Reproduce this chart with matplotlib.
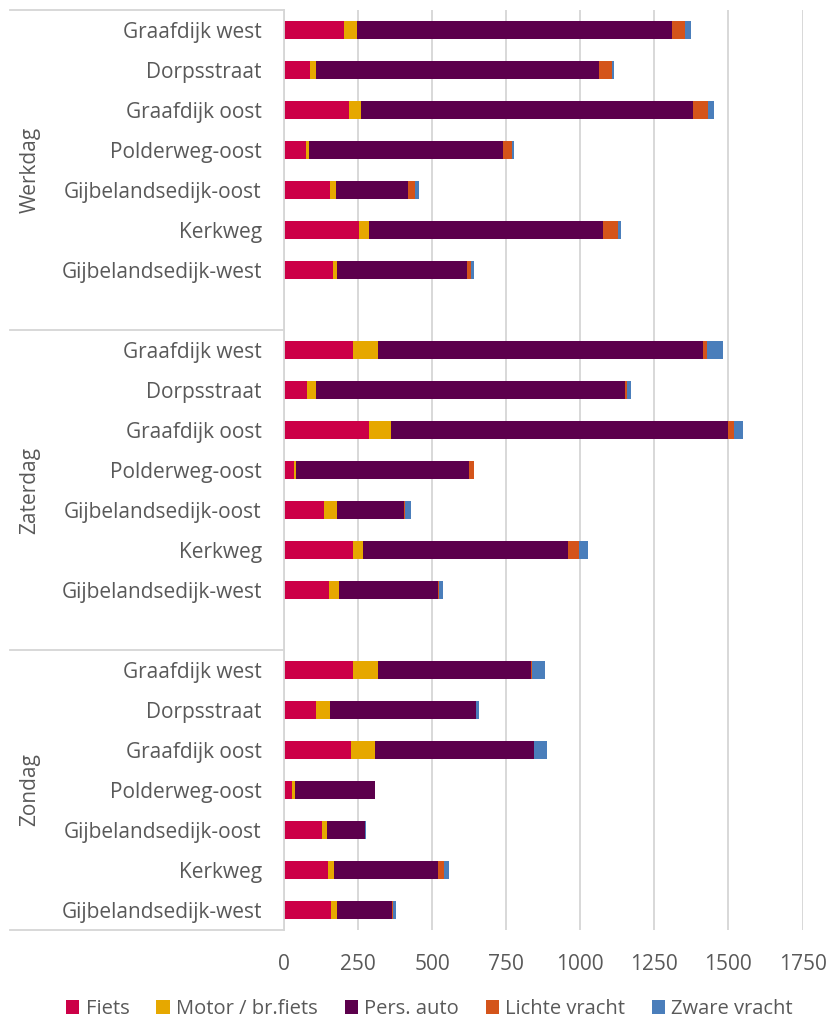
import matplotlib
matplotlib.use("Agg")
import matplotlib.pyplot as pl
import matplotlib.transforms as mtransforms
import numpy as np

pl.rcParams["font.family"] = ["Open Sans", "DejaVu Sans"]

days = ["Werkdag", "Zaterdag", "Zondag"]
roads = ["Graafdijk west", "Dorpsstraat", "Graafdijk oost", "Polderweg-oost",
		"Gijbelandsedijk-oost", "Kerkweg", "Gijbelandsedijk-west"]
seriesNames = ["Fiets", "Motor / br.fiets", "Pers. auto", "Lichte vracht", "Zware vracht"]

# per series: 7 roads for Werkdag, then Zaterdag, then Zondag
fiets = [203, 89, 220, 73, 154, 252, 167,
		232, 77, 288, 33, 134, 232, 151,
		232, 109, 225, 28, 127, 148, 160]
motor = [45, 20, 40, 12, 20, 36, 11,
		84, 32, 73, 7, 44, 36, 35,
		84, 45, 83, 8, 19, 22, 19]
persAuto = [1061, 955, 1120, 655, 244, 790, 441,
		1099, 1042, 1137, 586, 228, 692, 335,
		518, 493, 535, 270, 128, 351, 187]
lichteVracht = [45, 42, 50, 30, 25, 48, 11,
		12, 8, 22, 15, 2, 36, 3,
		2, 1, 2, 0, 0, 18, 2]
zwareVracht = [19, 7, 20, 6, 12, 12, 11,
		56, 11, 29, 1, 20, 31, 12,
		46, 10, 41, 2, 2, 17, 9]

colors = ["#CC0047", "#E6A800", "#5C004C", "#D4541A", "#4A7EBB"]
textColor = "#595959"
gridColor = "#D6D6D6"

W, H = 826, 1025
figure = pl.figure(figsize=(W / 100, H / 100), dpi=100)
axLeft, axRight, axTop, axBottom = 284, 802.5, 10, 930
axes = figure.add_axes([axLeft / W, 1 - axBottom / H, (axRight - axLeft) / W, (axBottom - axTop) / H])

slotsPerGroup = 8
positions = []
for g in range(len(days)):
	for r in range(len(roads)):
		positions.append(g * slotsPerGroup + r)
positions = np.array(positions)

allSeries = [fiets, motor, persAuto, lichteVracht, zwareVracht]
left = np.zeros(len(positions))
handles = []
for values, color, name in zip(allSeries, colors, seriesNames):
	values = np.array(values, dtype=float)
	bars = axes.barh(positions, values, left=left, height=0.47, color=color, label=name, linewidth=0)
	handles.append(bars)
	left += values

nSlots = len(days) * slotsPerGroup - 1
axes.set_ylim(nSlots - 0.5, -0.5)
axes.set_xlim(0, 1750)
axes.set_xticks(np.arange(0, 1751, 250))
axes.tick_params(axis="x", length=0, pad=17, labelsize=15, labelcolor=textColor)
axes.set_yticks(positions)
axes.set_yticklabels(roads * len(days))
axes.tick_params(axis="y", length=0, pad=16, labelsize=15, labelcolor=textColor)
axes.xaxis.grid(True, color=gridColor, linewidth=1.3)
axes.set_axisbelow(True)
for side in ["top", "right", "bottom"]:
	axes.spines[side].set_visible(False)
axes.spines["left"].set_color(gridColor)
axes.spines["left"].set_linewidth(1.3)

blend = mtransforms.blended_transform_factory(axes.transAxes, axes.transData)
lineStart = (10 - axLeft) / (axRight - axLeft)
labelX = (30 - axLeft) / (axRight - axLeft)
separators = [-0.5, slotsPerGroup - 0.5, 2 * slotsPerGroup - 0.5, nSlots - 0.5]
for y in separators:
	axes.plot([lineStart, 0], [y, y], transform=blend, color=gridColor, linewidth=1.3, clip_on=False)
for i, day in enumerate(days):
	center = (separators[i] + separators[i + 1]) / 2
	axes.text(labelX, center, day, transform=blend, rotation=90, ha="center", va="center",
			fontsize=15, color=textColor)

figure.legend(handles=handles, loc="center", bbox_to_anchor=(0.52, 1 - 1009 / H), ncol=5,
			frameon=False, fontsize=14.5, labelcolor=textColor, handlelength=0.65, handleheight=0.65,
			handletextpad=0.3, columnspacing=1.35)

figure.savefig("out.png", dpi=100)
pl.close(figure)
